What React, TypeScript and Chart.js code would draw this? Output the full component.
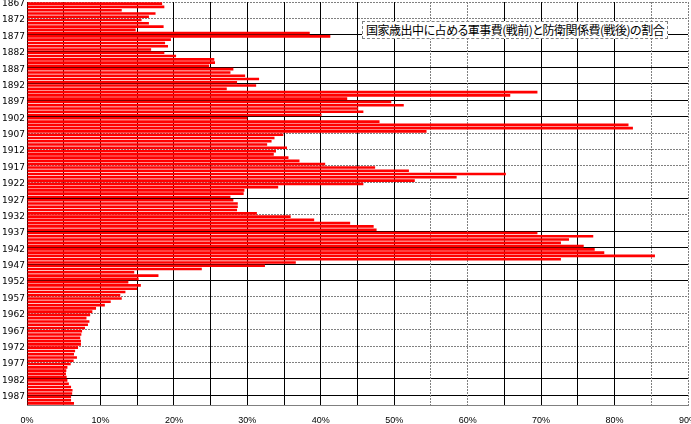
import React, { useEffect, useRef } from 'react';
import { Chart, registerables } from 'chart.js';

Chart.register(...registerables);

// ---- data ----
const FIRST_YEAR = 1867;

// 軍事費の割合 (%) 1867–1945
const militaryShare = [
  18.4, 18.7, 12.9, 17.5, 16.6, 15.6, 16.6, 18.6, 14.8, 38.5,
  41.3, 19.6, 18.8, 19.2, 16.9, 18.7, 20.3, 25.5, 25.6, 24.8,
  28.1, 27.7, 29.7, 31.6, 28.6, 31.2, 27.2, 69.5, 65.8, 43.6,
  49.6, 51.3, 45.1, 45.8, 40.1, 30.0, 48.0, 81.9, 82.5, 54.4,
  34.9, 33.7, 33.3, 32.7, 35.4, 33.9, 33.6, 35.6, 37.1, 40.6,
  47.4, 52.0, 65.2, 58.5, 52.8, 45.8, 34.2, 29.6, 29.5, 27.7,
  28.1, 28.7, 28.7, 28.6, 31.3, 35.9, 39.1, 44.0, 47.2, 47.6,
  69.5, 77.1, 73.8, 72.7, 75.8, 77.3, 78.6, 85.5, 72.7,
];

// 防衛関係費の割合 (%) 1946–1989
const defenseShare = [
  36.6, 32.4, 23.8, 14.6, 17.9, 15.2, 13.8, 15.5, 15.0, 13.4,
  12.7, 12.9, 11.4, 10.6, 9.4, 8.9, 8.6, 8.1, 8.5, 8.3,
  7.9, 7.5, 7.4, 7.25, 7.35, 7.35, 6.95, 6.55, 6.4, 6.8,
  6.35, 5.95, 5.5, 5.35, 5.3, 5.4, 5.5, 5.7, 6.0, 6.2,
  6.15, 6.0, 6.0, 6.4,
];

const shareValues = [...militaryShare, ...defenseShare];
const yearLabels = shareValues.map((_, i) => String(FIRST_YEAR + i));
const YEAR_LABEL_STEP = 5;

const X_MIN = 0;
const X_MAX = 90;
const X_STEP = 5;
const xTickLabels: Record<number, string> = {
  0: '0%', 10: '10%', 20: '20%', 30: '30%', 40: '40%',
  50: '50%', 60: '60%', 70: '70%', 80: '80%', 90: '90%',
};

const TITLE = '国家歳出中に占める軍事費(戦前)と防衛関係費(戦後)の割合';

// ---- style ----
const BAR_COLOR = '#ff0000';
const DARK = '#000000';
const GREY = '#808080';
// horizontal grid line style for every 5th category boundary: g = grey dotted, b = black
const hGridStyle = 'ggbbbbbbggggbgbbbbgggggbb';
const vGreyValues = [55, 60, 85, 90];

export default function App() {
  const canvasRef = useRef<HTMLCanvasElement | null>(null);

  useEffect(() => {
    document.body.style.margin = '0';
    const canvas = canvasRef.current;
    if (!canvas) return;

    const hStyle = (ctx: any) => {
      const i = ctx.index;
      if (i === undefined || i % YEAR_LABEL_STEP !== 0) return null;
      return hGridStyle[i / YEAR_LABEL_STEP] || 'b';
    };

    const chart = new Chart(canvas, {
      type: 'bar',
      data: {
        labels: yearLabels,
        datasets: [
          {
            data: shareValues,
            backgroundColor: BAR_COLOR,
            borderWidth: 0,
            barPercentage: 0.8,
            categoryPercentage: 1,
          },
        ],
      },
      options: {
        indexAxis: 'y',
        animation: false,
        responsive: false,
        devicePixelRatio: 1,
        layout: { padding: { top: 2, left: 0, right: 0, bottom: 0 } },
        plugins: {
          legend: { display: false },
          tooltip: { enabled: false },
          title: { display: false },
        },
        scales: {
          y: {
            type: 'category',
            offset: true,
            grid: {
              offset: true,
              drawTicks: false,
              color: (ctx: any) => {
                const s = hStyle(ctx);
                if (!s) return 'rgba(0,0,0,0)';
                return s === 'g' ? GREY : DARK;
              },
              lineWidth: 1,
            },
            border: {
              display: true,
              color: DARK,
              width: 1,
              dash: (ctx: any) => (hStyle(ctx) === 'g' ? [2, 1] : []),
            },
            ticks: {
              autoSkip: false,
              padding: 2,
              color: '#000',
              font: { family: 'DejaVu Sans', size: 9 },
              callback: (_v: any, idx: number) =>
                idx % YEAR_LABEL_STEP === 0 ? yearLabels[idx] : '',
            },
            afterFit: (scale: any) => {
              scale.width = 27;
              scale.paddingTop = 0;
              scale.paddingBottom = 0;
            },
          },
          x: {
            type: 'linear',
            min: X_MIN,
            max: X_MAX,
            grid: {
              drawTicks: false,
              color: (ctx: any) =>
                ctx.tick && vGreyValues.includes(ctx.tick.value) ? GREY : DARK,
              lineWidth: 1,
            },
            border: {
              display: true,
              color: GREY,
              width: 1,
              dash: (ctx: any) =>
                ctx.tick && vGreyValues.includes(ctx.tick.value) ? [2, 1] : [],
            },
            ticks: {
              stepSize: X_STEP,
              autoSkip: false,
              maxRotation: 0,
              padding: 10,
              color: '#000',
              font: { family: 'Liberation Sans', size: 9 },
              callback: (v: any) => xTickLabels[Number(v)] ?? '',
            },
            afterFit: (scale: any) => {
              scale.height = 19;
              scale.paddingRight = 3;
              scale.paddingLeft = 0;
            },
          },
        },
      },
    });

    return () => chart.destroy();
  }, []);

  return (
    <div style={{ position: 'relative', width: 691, height: 424, overflow: 'hidden', background: '#fff' }}>
      <canvas ref={canvasRef} width={691} height={424} style={{ display: 'block' }} />
      <div
        style={{
          position: 'absolute',
          left: 362,
          top: 21,
          height: 16,
          lineHeight: '16px',
          padding: '0 3px',
          border: '1px dashed #808080',
          background: '#fff',
          color: '#000',
          fontFamily: '"Noto Sans CJK JP", sans-serif',
          fontSize: 12,
          letterSpacing: '-0.5px',
          fontFeatureSettings: '"palt"',
          whiteSpace: 'nowrap',
        }}
      >
        {TITLE}
      </div>
    </div>
  );
}
